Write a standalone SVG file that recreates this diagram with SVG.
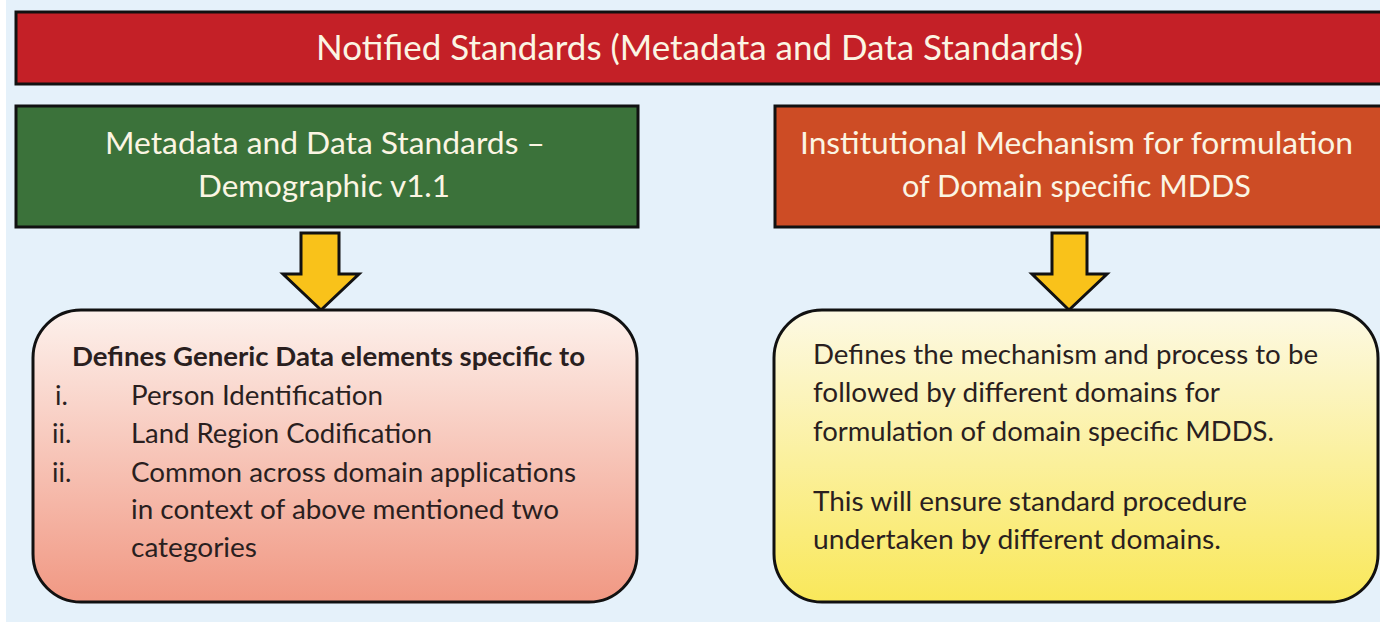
<svg xmlns="http://www.w3.org/2000/svg" width="1380" height="625" viewBox="0 0 1380 625">
  <defs>
    <linearGradient id="gPink" x1="0" y1="0" x2="0" y2="1">
      <stop offset="0" stop-color="#fdf1ec"/>
      <stop offset="1" stop-color="#f19883"/>
    </linearGradient>
    <linearGradient id="gYellow" x1="0" y1="0" x2="0" y2="1">
      <stop offset="0" stop-color="#fdf9e4"/>
      <stop offset="1" stop-color="#f9e85a"/>
    </linearGradient>
    <style>
      .bar { stroke: #111; stroke-width: 3; }
      .head { font-family: Lato, "Liberation Sans", sans-serif; fill: #fbf5e3; }
      .body { font-family: Lato, "Liberation Sans", sans-serif; fill: #2a1f1f; font-size: 27px; }
      .box { stroke: #111; stroke-width: 3; }
      .arrow { fill: #f9c21a; stroke: #111; stroke-width: 3; stroke-linejoin: miter; }
    </style>
  </defs>

  <rect x="0" y="0" width="1380" height="625" fill="#ffffff"/>
  <rect x="6" y="0" width="1374" height="622" fill="#e5f1fa"/>

  <g id="title">
    <rect class="bar" x="16" y="12" width="1370" height="72" fill="#c42027"/>
    <text class="head" x="316" y="60" font-size="35" textLength="767" lengthAdjust="spacingAndGlyphs">Notified Standards (Metadata and Data Standards)</text>
  </g>

  <g id="demographic">
    <rect class="bar" x="16" y="106" width="622" height="121" fill="#3b723a"/>
    <text class="head" x="105" y="154" font-size="31" textLength="440" lengthAdjust="spacingAndGlyphs">Metadata and Data Standards –</text>
    <text class="head" x="198" y="197" font-size="31" textLength="252" lengthAdjust="spacingAndGlyphs">Demographic v1.1</text>
  </g>

  <g id="institutional">
    <rect class="bar" x="775" y="106" width="612" height="121" fill="#cd4c25"/>
    <text class="head" x="800" y="154" font-size="31" textLength="553" lengthAdjust="spacingAndGlyphs">Institutional Mechanism for formulation</text>
    <text class="head" x="902" y="197" font-size="31" textLength="349" lengthAdjust="spacingAndGlyphs">of Domain specific MDDS</text>
  </g>

  <g id="connectors">
    <path class="arrow" d="M301,233 L339,233 L339,274 L359,274 L321,310 L283,274 L301,274 Z"/>
    <path class="arrow" d="M1052,233 L1087,233 L1087,274 L1107,274 L1069,310 L1032,274 L1052,274 Z"/>
  </g>

  <g id="generic-elements">
    <rect class="box" x="33" y="310" width="604" height="292" rx="48" ry="48" fill="url(#gPink)"/>
    <text class="body" x="72" y="366" font-weight="bold" font-size="26" textLength="513" lengthAdjust="spacingAndGlyphs">Defines Generic Data elements specific to</text>
    <text class="body" x="55" y="405">i.</text>
    <text class="body" x="131" y="405" textLength="252" lengthAdjust="spacingAndGlyphs">Person Identification</text>
    <text class="body" x="52" y="443">ii.</text>
    <text class="body" x="131" y="443" textLength="301" lengthAdjust="spacingAndGlyphs">Land Region Codification</text>
    <text class="body" x="52" y="482">ii.</text>
    <text class="body" x="131" y="482" textLength="445" lengthAdjust="spacingAndGlyphs">Common across domain applications</text>
    <text class="body" x="131" y="519" textLength="428" lengthAdjust="spacingAndGlyphs">in context of above mentioned two</text>
    <text class="body" x="131" y="557" textLength="126" lengthAdjust="spacingAndGlyphs">categories</text>
  </g>

  <g id="mechanism">
    <rect class="box" x="774" y="310" width="604" height="292" rx="48" ry="48" fill="url(#gYellow)"/>
    <text class="body" x="813" y="364" textLength="505" lengthAdjust="spacingAndGlyphs">Defines the mechanism and process to be</text>
    <text class="body" x="813" y="402" textLength="407" lengthAdjust="spacingAndGlyphs">followed by different domains for</text>
    <text class="body" x="813" y="441" textLength="461" lengthAdjust="spacingAndGlyphs">formulation of domain specific MDDS.</text>
    <text class="body" x="813" y="511" textLength="434" lengthAdjust="spacingAndGlyphs">This will ensure standard procedure</text>
    <text class="body" x="813" y="549" textLength="408" lengthAdjust="spacingAndGlyphs">undertaken by different domains.</text>
  </g>
</svg>
